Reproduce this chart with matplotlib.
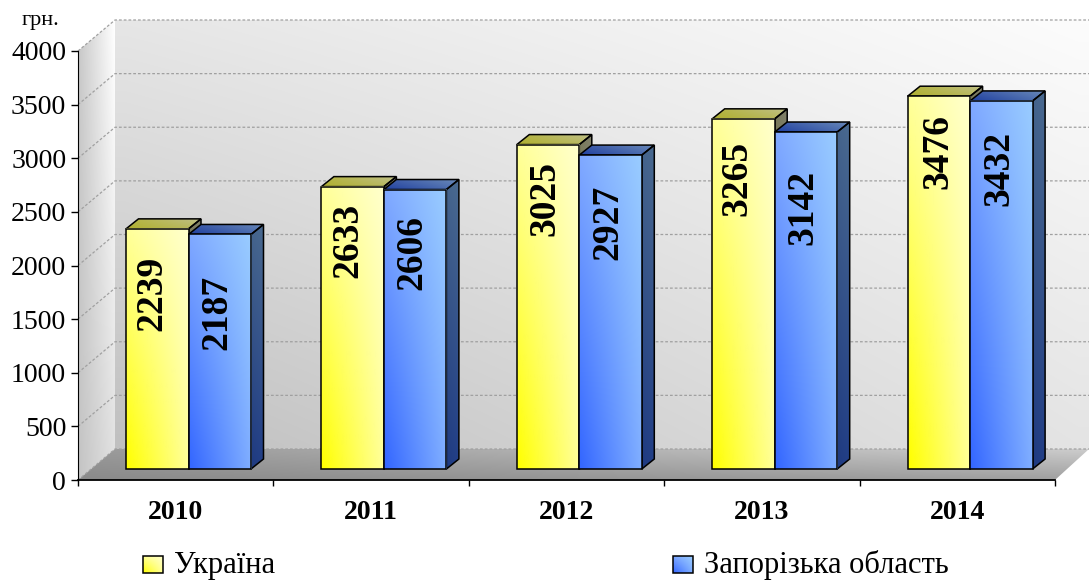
import numpy as np
import matplotlib
matplotlib.use('Agg')
import matplotlib.pyplot as plt
from matplotlib.colors import to_rgb
from matplotlib.patches import Polygon

years = ['2010', '2011', '2012', '2013', '2014']
ukraine = [2239, 2633, 3025, 3265, 3476]
zaporizhzhia = [2187, 2606, 2927, 3142, 3432]
y_ticks = [0, 500, 1000, 1500, 2000, 2500, 3000, 3500, 4000]
series_names = ['Україна', 'Запорізька область']
unit = 'грн.'

W, H = 1089, 580
X0, Y0 = 78, 480         # where the front axes start, in pixels
PX_CAT = 195.4           # pixels per category
PX_VAL = 429 / 4000      # pixels per hryvnia

plt.rcParams['font.family'] = ['Liberation Serif', 'DejaVu Serif']

fig = plt.figure(figsize=(W / 100, H / 100), dpi=100)
ax = fig.add_axes([0, 0, 1, 1], facecolor='white')


def dx(px):
    return px / PX_CAT


def dy(px):
    return px / PX_VAL


def gradient(x0, x1, y0, y1, ll, lr, ul, ur, zorder, clip=None):
    # bilinear blend of the four corner colours
    u, v = np.meshgrid(np.linspace(0, 1, 48), np.linspace(0, 1, 48))
    u, v = u[..., None], v[..., None]
    arr = ((1 - u) * (1 - v) * to_rgb(ll) + u * (1 - v) * to_rgb(lr)
           + (1 - u) * v * to_rgb(ul) + u * v * to_rgb(ur))
    im = ax.imshow(arr, extent=(x0, x1, y0, y1), origin='lower', aspect='auto',
                   interpolation='bilinear', zorder=zorder)
    if clip is not None:
        im.set_clip_path(clip)
    return im


def shaded_poly(pts, colors, zorder, edge='black', lw=1.1):
    pts = np.array(pts)
    poly = Polygon(pts, closed=True, fill=False, edgecolor=edge, linewidth=lw, zorder=zorder + 0.1)
    ax.add_patch(poly)
    gradient(pts[:, 0].min(), pts[:, 0].max(), pts[:, 1].min(), pts[:, 1].max(),
             *colors, zorder, clip=poly)


x_left, x_right = -X0 / PX_CAT, (W - X0) / PX_CAT
y_bot, y_top = -(H - Y0) / PX_VAL, Y0 / PX_VAL
wall_dx, wall_dy = dx(37), dy(31)

# --- walls and floor ---
gradient(wall_dx, x_right, wall_dy, 4000 + wall_dy, '#c0c0c0', '#e4e4e4', '#e6e6e6', '#fcfcfc', 0)
shaded_poly([(0, 0), (wall_dx, wall_dy), (wall_dx, 4000 + wall_dy), (0, 4000)],
            ('#c4c4c4', '#e0e0e0', '#c8c8c8', '#ffffff'), 0, edge='none')
shaded_poly([(0, 0), (5, 0), (x_right, wall_dy), (wall_dx, wall_dy)],
            ('#8a8a8a', '#a0a0a0', '#9a9a9a', '#cccccc'), 0.5, edge='none')

# --- dashed grid on the walls ---
for v in y_ticks:
    ax.plot([0, wall_dx, x_right], [v, v + wall_dy, v + wall_dy], color='#a0a0a0',
            lw=0.9, ls=(0, (2.2, 1.6)), zorder=1)

# --- bars ---
bar_w = dx(62.5)
depth_x, depth_y = dx(12.5), dy(10)
floor_x, floor_y = dx(12.8), dy(11)
pos = np.arange(len(years)) + 0.5 + floor_x

yellow = ('#ffff00', '#ffff99', '#ffff99', '#ffffcc')
blue = ('#3366ff', '#80aeff', '#7fa8ff', '#99ccff')
series = [
    (ukraine, pos - bar_w, yellow,
     ('#8a8a40', '#90906a', '#78785a', '#80806a'),
     ('#b0b030', '#b8b860', '#b4b440', '#c0c088')),
    (zaporizhzhia, pos, blue,
     ('#1f3a80', '#223f88', '#45648c', '#4a6a90'),
     ('#2040a0', '#4f70b0', '#3a58a8', '#6888b8')),
]
for z, (vals, lefts, front, side, top) in enumerate(series):
    zo = 3 + z
    for x, v in zip(lefts, vals):
        b = floor_y
        t = floor_y + v
        shaded_poly([(x + bar_w, b), (x + bar_w + depth_x, b + depth_y),
                     (x + bar_w + depth_x, t + depth_y), (x + bar_w, t)], side, zo)
        shaded_poly([(x, t), (x + bar_w, t), (x + bar_w + depth_x, t + depth_y),
                     (x + depth_x, t + depth_y)], top, zo)
        gradient(x, x + bar_w, b, t, *front, zo + 0.2)
    ax.bar(lefts, vals, bar_w, bottom=floor_y, align='edge', fill=False, edgecolor='black',
           linewidth=1.1, zorder=zo + 0.3)

# --- rotated value labels, nudged by hand to sit where the original has them ---
label_drop = [[65, 54, 54, 60, 55], [78, 63, 67, 75, 68]]
label_shift = [[-37, -36, -34, -38, -32], [28, 28, 29, 28, 29]]
for vals, drops, shifts in zip((ukraine, zaporizhzhia), label_drop, label_shift):
    for x, v, d, s in zip(pos, vals, drops, shifts):
        ax.text(x + dx(s), floor_y + v - dy(d), str(v), rotation=90, ha='center', va='center',
                fontsize=27, fontweight='bold', color='black', zorder=7)

# --- axes ---
for side_name in ('top', 'right'):
    ax.spines[side_name].set_visible(False)
ax.spines['left'].set_position(('data', 0))
ax.spines['left'].set_bounds(0, 4000)
ax.spines['left'].set_linestyle((0, (1.5, 1)))
ax.spines['bottom'].set_position(('data', 0))
ax.spines['bottom'].set_bounds(0, 5)
ax.spines['bottom'].set_linewidth(1.3)
ax.spines['left'].set_zorder(8)
ax.spines['bottom'].set_zorder(8)

ax.set_yticks(y_ticks)
ax.set_yticklabels([str(v) for v in y_ticks], fontsize=20, va='center_baseline')
ax.set_xticks(np.arange(len(years) + 1))
ax.set_xticklabels([])
ax.set_xticks(np.arange(len(years)) + 0.5, minor=True)
ax.set_xticklabels(years, minor=True, fontsize=20, fontweight='bold')
ax.tick_params(axis='y', length=5, width=1, pad=3.5)
ax.tick_params(axis='x', which='major', length=4.5, width=1)
ax.tick_params(axis='x', which='minor', length=0, pad=14.5)

# --- unit and legend ---
ax.text(dx(40 - X0), dy(Y0 - 20), unit, ha='center', va='center', fontsize=16)
legend_at = [143, 673]
for px, name, cols in zip(legend_at, series_names, (yellow, blue)):
    x0, x1 = dx(px - X0), dx(px + 20 - X0)
    y0, y1 = dy(Y0 - 573), dy(Y0 - 556)
    gradient(x0, x1, y0, y1, *cols, 5)
    ax.add_patch(Polygon([(x0, y0), (x1, y0), (x1, y1), (x0, y1)], fill=False,
                         edgecolor='black', linewidth=1.1, zorder=6))
    ax.text(dx(px + 31 - X0), dy(Y0 - 573), name, ha='left', va='baseline', fontsize=22)

ax.set_xlim(x_left, x_right)
ax.set_ylim(y_bot, y_top)

fig.savefig('out.png', dpi=100)
